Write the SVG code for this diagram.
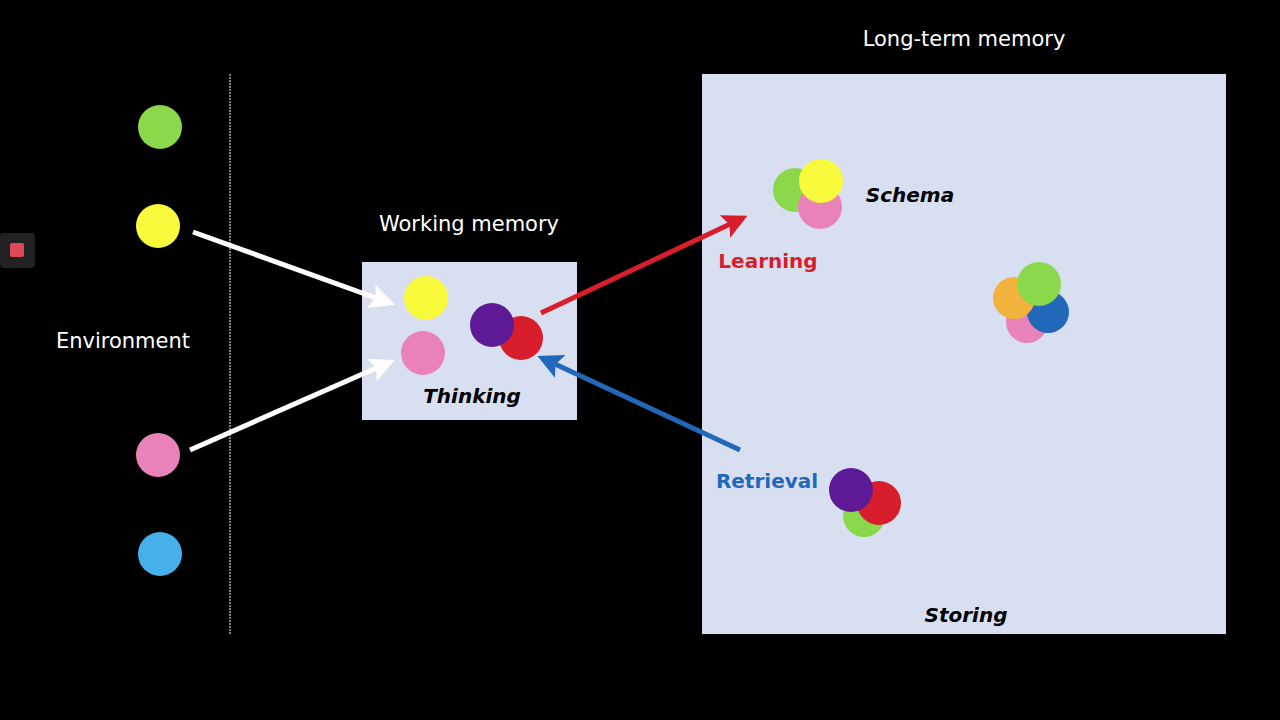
<svg xmlns="http://www.w3.org/2000/svg" width="1280" height="720" viewBox="0 0 1280 720">
<style>
.t{font-family:"DejaVu Sans","Liberation Sans",sans-serif;}
.w{fill:#fff;font-size:21px;}
.i{font-style:italic;font-weight:bold;font-size:20px;fill:#000;}
.b{font-weight:bold;font-size:20px;}
</style>
<defs>
<marker id="aw" viewBox="0 0 10 10" refX="8" refY="5" markerWidth="5" markerHeight="5" orient="auto"><path d="M0,0L10,5L0,10L2,5z" fill="#fff"/></marker>
<marker id="ar" viewBox="0 0 10 10" refX="8" refY="5" markerWidth="5" markerHeight="5" orient="auto"><path d="M0,0L10,5L0,10L2,5z" fill="#d81e2c"/></marker>
<marker id="ab" viewBox="0 0 10 10" refX="8" refY="5" markerWidth="5" markerHeight="5" orient="auto"><path d="M0,0L10,5L0,10L2,5z" fill="#2169b8"/></marker>
</defs>
<rect width="1280" height="720" fill="#000"/>
<g id="stopicon"><rect x="0" y="233" width="35" height="35" rx="4" fill="#222"/><rect x="10" y="243" width="14" height="14" rx="2" fill="#e0485a"/></g>
<line x1="230" y1="74" x2="230" y2="634" stroke="#fff" stroke-width="1" stroke-dasharray="2,1"/>
<g id="environment">
<text class="t w" x="123" y="348" text-anchor="middle">Environment</text>
<circle cx="160" cy="127" r="22" fill="#8bd84a"/>
<circle cx="158" cy="226" r="22" fill="#fafa3c"/>
<circle cx="158" cy="455" r="22" fill="#e882b8"/>
<circle cx="160" cy="554" r="22" fill="#45b0ea"/>
</g>
<g id="working-memory">
<text class="t w" x="469" y="231" text-anchor="middle">Working memory</text>
<rect x="362" y="262" width="215" height="158" fill="#d8dff0"/>
<circle cx="426" cy="298" r="22" fill="#fafa3c"/>
<circle cx="423" cy="353" r="22" fill="#e882b8"/>
<circle cx="521" cy="338" r="22" fill="#d81e2c"/>
<circle cx="492" cy="325" r="22" fill="#5e1a96"/>
<text class="t i" x="472" y="403" text-anchor="middle">Thinking</text>
</g>
<g id="long-term-memory">
<text class="t w" x="964" y="46" text-anchor="middle">Long-term memory</text>
<rect x="702" y="74" width="524" height="560" fill="#d8dff0"/>
<circle cx="795" cy="190" r="22" fill="#8bd84a"/>
<circle cx="820" cy="207" r="22" fill="#e882b8"/>
<circle cx="821" cy="181" r="22" fill="#fafa3c"/>
<text class="t i" x="910" y="202" text-anchor="middle">Schema</text>
<circle cx="1027" cy="322" r="21" fill="#e882b8"/>
<circle cx="1048" cy="312" r="21" fill="#2169b8"/>
<circle cx="1014" cy="298" r="21" fill="#f2b33d"/>
<circle cx="1039" cy="284" r="22" fill="#8bd84a"/>
<circle cx="864" cy="516" r="21" fill="#8bd84a"/>
<circle cx="879" cy="503" r="22" fill="#d81e2c"/>
<circle cx="851" cy="490" r="22" fill="#5e1a96"/>
<text class="t i" x="966" y="622" text-anchor="middle">Storing</text>
</g>
<g id="connectors" fill="none" stroke-width="5">
<line x1="193" y1="232" x2="390" y2="303" stroke="#fff" marker-end="url(#aw)"/>
<line x1="190" y1="450" x2="390" y2="362" stroke="#fff" marker-end="url(#aw)"/>
<line x1="541" y1="313" x2="743" y2="218" stroke="#d81e2c" marker-end="url(#ar)"/>
<line x1="740" y1="450" x2="542" y2="358" stroke="#2169b8" marker-end="url(#ab)"/>
<text class="t b" x="768" y="268" text-anchor="middle" fill="#d81e2c" stroke="none">Learning</text>
<text class="t b" x="767" y="488" text-anchor="middle" fill="#2169b8" stroke="none">Retrieval</text>
</g>
</svg>
